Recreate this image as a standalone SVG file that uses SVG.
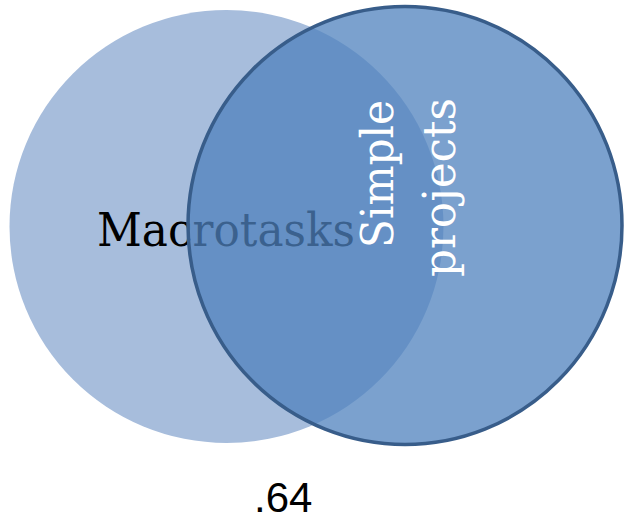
<svg xmlns="http://www.w3.org/2000/svg" width="624" height="521" viewBox="0 0 624 521">
<style>
.serif{font-family:"DejaVu Serif","Liberation Serif",serif;}
.sans{font-family:"Liberation Sans",Arial,sans-serif;}
</style>
<rect x="0" y="0" width="624" height="521" fill="#ffffff"/>
<g id="macrotasks">
<ellipse cx="226.5" cy="226.5" rx="217" ry="216.5" fill="#A7BDDC"/>
<text class="serif" x="97" y="246" font-size="47" fill="#000000" textLength="258" lengthAdjust="spacingAndGlyphs">Macrotasks</text>
</g>
<g id="simple-projects">
<ellipse cx="405" cy="225.5" rx="217" ry="219" fill="#4F81BD" fill-opacity="0.75" stroke="#385D8A" stroke-width="3.5"/>
<text class="serif" fill="#ffffff" font-size="44" transform="translate(393,248) rotate(-90)" textLength="148" lengthAdjust="spacingAndGlyphs">Simple</text>
<text class="serif" fill="#ffffff" font-size="44" transform="translate(455,277) rotate(-90)" textLength="179" lengthAdjust="spacingAndGlyphs">projects</text>
</g>
<g id="connectors"></g>
<g id="value">
<text class="sans" x="254" y="512" font-size="42" fill="#000000">.64</text>
</g>
</svg>
